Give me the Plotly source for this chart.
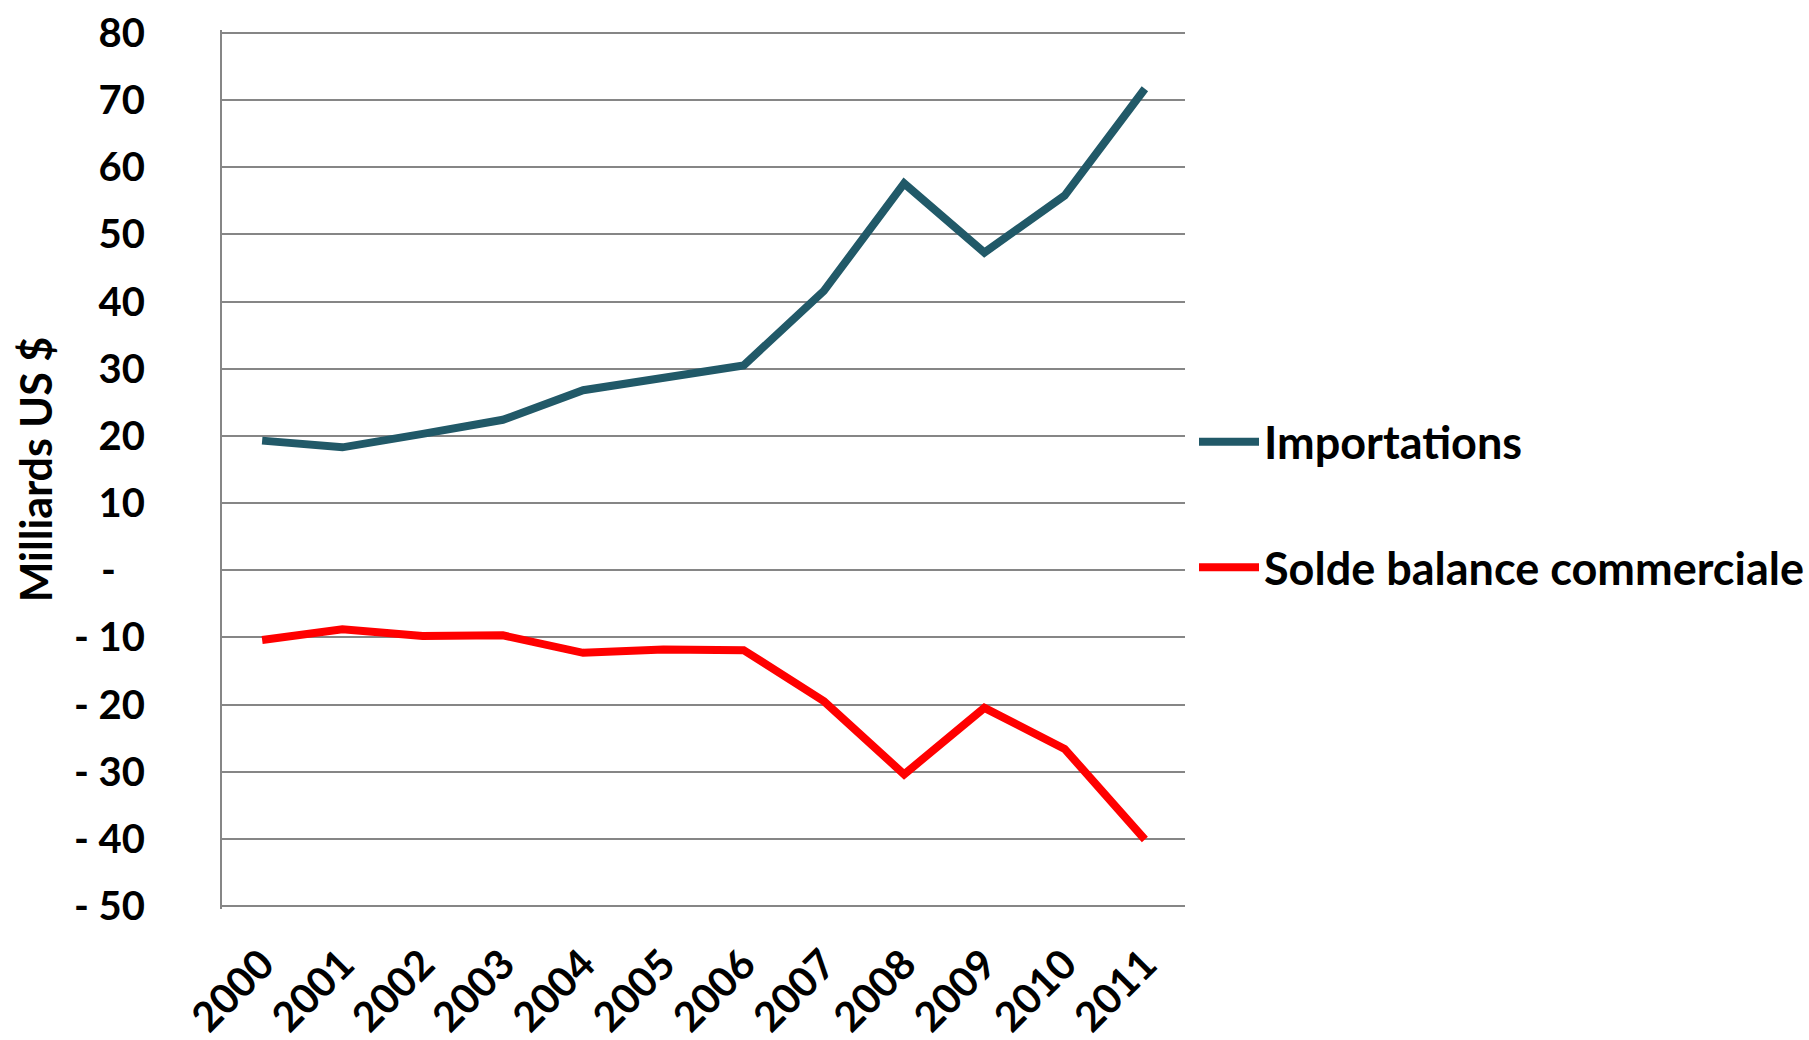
import plotly.graph_objects as go

years = ["2000", "2001", "2002", "2003", "2004", "2005", "2006", "2007", "2008", "2009", "2010", "2011"]
importations = [19.3, 18.3, 20.3, 22.4, 26.8, 28.5, 30.5, 41.6, 57.6, 47.3, 55.8, 71.7]
solde = [-10.4, -8.8, -9.8, -9.7, -12.3, -11.8, -11.9, -19.5, -30.4, -20.5, -26.6, -40.1]

y_tickvals = [80, 70, 60, 50, 40, 30, 20, 10, 0, -10, -20, -30, -40, -50]
y_ticktext = ["80", "70", "60", "50", "40", "30", "20", "10", "-\u00a0\u00a0\u00a0",
              "- 10", "- 20", "- 30", "- 40", "- 50"]

FONT = "Lato"
W, H = 1809, 1040
L, R, T, B = 222, 1185, 30, 909

fig = go.Figure()
fig.add_trace(go.Scatter(x=years, y=importations, mode="lines", name="Importations",
                         legendgroup="a",
                         line=dict(color="#215968", width=8)))
fig.add_trace(go.Scatter(x=years, y=solde, mode="lines", name="Solde balance commerciale",
                         legendgroup="b",
                         line=dict(color="#FF0000", width=8)))

fig.update_layout(
    width=W, height=H,
    margin=dict(l=L, r=W - R, t=T, b=H - B, autoexpand=False),
    paper_bgcolor="white", plot_bgcolor="white",
    font=dict(family=FONT, color="black"),
    showlegend=True,
    legend=dict(
        x=(1194 - L) / (R - L), xanchor="left",
        y=(B - 406) / (B - T), yanchor="top",
        font=dict(family=FONT, size=45, color="black", weight="bold"),
        itemwidth=60, tracegroupgap=64,
        bgcolor="rgba(0,0,0,0)",
    ),
    xaxis=dict(
        type="category", range=[-0.5, 11.5],
        showgrid=False, showline=False, zeroline=False,
        ticks="", tickangle=-45,
        tickfont=dict(family=FONT, size=41, weight="bold"),
        ticklabelstandoff=22,
    ),
    yaxis=dict(
        range=[-50.45, 80.45],
        tickvals=y_tickvals, ticktext=y_ticktext,
        showgrid=True, gridcolor="#868686", gridwidth=2,
        showline=True, linecolor="#868686", linewidth=2,
        zeroline=False, ticks="",
        tickfont=dict(family=FONT, size=40, weight="bold"),
        ticklabelstandoff=67,
        title=dict(text="Milliards US $", font=dict(family=FONT, size=43, weight="bold"),
                   standoff=8),
    ),
)

fig.write_html("out.html", config={"displayModeBar": False},
               post_script="document.body.style.margin='0';")
